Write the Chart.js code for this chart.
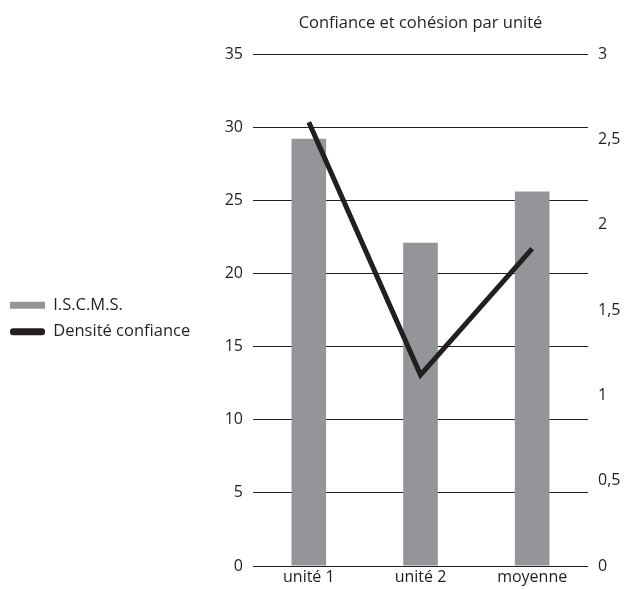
<!DOCTYPE html>
<html>
<head>
<meta charset="utf-8">
<script src="https://cdn.jsdelivr.net/npm/chart.js@4/dist/chart.umd.min.js"></script>
<style>
  html, body { margin: 0; padding: 0; background: #ffffff; }
  #wrap { width: 626px; height: 589px; }
</style>
</head>
<body>
<div id="wrap"><canvas id="c" width="626" height="589"></canvas></div>
<script>
const chartTitle = 'Confiance et cohésion par unité';
const categories = ['unité 1', 'unité 2', 'moyenne'];
const iscmsLabel = 'I.S.C.M.S.';
const iscmsValues = [29.2, 22.1, 25.6];
const densiteLabel = 'Densité confiance';
const densiteValues = [2.6, 1.12, 1.86];
const leftMax = 35, leftStep = 5;
const rightMax = 3, rightStep = 0.5;

const textColor = '#231f20';
const fontFamily = '"Open Sans", "Noto Sans", sans-serif';
const titleFont = { family: fontFamily, size: 16.5 };
const legendFont = { family: fontFamily, size: 16.5 };
const tickFont = { family: fontFamily, size: 16 };

const chart = new Chart(document.getElementById('c'), {
  data: {
    labels: categories,
    datasets: [
      {
        type: 'bar',
        label: iscmsLabel,
        data: iscmsValues,
        backgroundColor: '#939598',
        borderWidth: 0,
        yAxisID: 'y',
        xAxisID: 'x',
        categoryPercentage: 1,
        barPercentage: 0.31,
        order: 1
      },
      {
        type: 'line',
        label: densiteLabel,
        data: densiteValues,
        borderColor: '#231f20',
        backgroundColor: '#231f20',
        borderWidth: 5,
        pointRadius: 0,
        tension: 0,
        fill: false,
        yAxisID: 'y1',
        xAxisID: 'x',
        order: 0
      }
    ]
  },
  options: {
    responsive: false,
    animation: false,
    layout: { padding: 0 },
    plugins: {
      title: { display: false },
      tooltip: { enabled: false },
      legend: {
        position: 'left',
        maxWidth: 240,
        title: {
          display: true,
          text: '',
          font: { family: fontFamily, size: 10 },
          padding: { top: 18, bottom: 18 }
        },
        labels: {
          color: textColor,
          font: legendFont,
          boxWidth: 35,
          boxHeight: 7,
          padding: 10,
          useBorderRadius: true,
          sort: (a, b) => a.datasetIndex - b.datasetIndex,
          generateLabels(ch) {
            const items = Chart.defaults.plugins.legend.labels.generateLabels(ch);
            items.forEach(it => {
              it.lineWidth = 0;
              it.strokeStyle = 'rgba(0,0,0,0)';
              it.borderRadius = it.datasetIndex === 1 ? 3 : 0;
            });
            return items;
          }
        }
      }
    },
    scales: {
      x: {
        type: 'category',
        position: 'bottom',
        grid: { display: false, drawTicks: false },
        border: { display: false },
        ticks: { color: textColor, font: tickFont, padding: 2 },
        afterFit(s) { s.height = 23; }
      },
      xTop: {
        type: 'category',
        position: 'top',
        labels: categories,
        grid: { display: false, drawTicks: false },
        border: { display: false },
        ticks: { display: false },
        title: {
          display: true,
          text: chartTitle,
          color: textColor,
          font: titleFont,
          padding: { top: 13, bottom: 0 }
        },
        afterFit(s) { s.height = 54; }
      },
      y: {
        type: 'linear',
        position: 'left',
        min: 0,
        max: leftMax,
        ticks: { stepSize: leftStep, color: textColor, font: tickFont, padding: 10 },
        grid: { color: '#231f20', lineWidth: 1, drawTicks: false },
        border: { display: false },
        afterFit(s) { s.width = 253 - s.chart.legend.width; }
      },
      y1: {
        type: 'linear',
        position: 'right',
        min: 0,
        max: rightMax,
        ticks: {
          stepSize: rightStep,
          color: textColor,
          font: tickFont,
          padding: 10,
          callback: v => String(v).replace('.', ',')
        },
        grid: { display: false, drawTicks: false },
        border: { display: false },
        afterFit(s) { s.width = 38; }
      }
    }
  }
});
</script>
</body>
</html>
